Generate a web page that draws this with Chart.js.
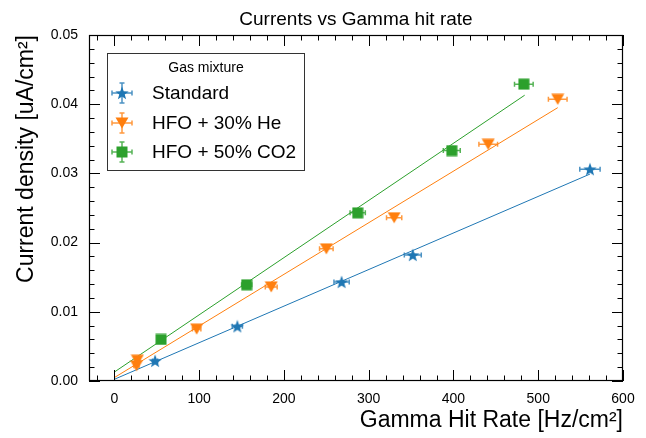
<!DOCTYPE html>
<html>
<head>
<meta charset="utf-8">
<script src="https://cdn.jsdelivr.net/npm/chart.js@4.4.1/dist/chart.umd.min.js"></script>
<style>
  body { margin: 0; background: #fff; }
  #wrap { width: 646px; height: 438px; }
</style>
</head>
<body>
<div id="wrap"><canvas id="myChart" width="646" height="438"></canvas></div>
<script>
// Données
const seriesNames = ['Standard', 'HFO + 30% He', 'HFO + 50% CO2'];
const seriesColors = ['#1f77b4', '#ff7f0e', '#2ca02c'];

const stdX = [48, 145, 268, 352, 561];
const stdY = [0.0029, 0.0079, 0.0143, 0.0182, 0.0306];
const stdXErr = [3, 6, 9, 10, 12];

const heX = [27, 26, 97, 185, 250, 330, 441, 523];
const heY = [0.0030, 0.0022, 0.0075, 0.0136, 0.0191, 0.0236, 0.0342, 0.0407];
const heXErr = [3, 3, 5, 7, 8, 9, 11, 11];

const co2X = [55, 156, 287, 398, 483];
const co2Y = [0.0060, 0.0139, 0.0243, 0.0333, 0.0429];
const co2XErr = [3, 6, 9, 10, 11];

const yErr = 0.0003;

// droites d'ajustement
const stdFitX = [0, 561];
const stdFitY = [0.00025, 0.0299];
const heFitX = [0, 523];
const heFitY = [0.0005, 0.0395];
const co2FitX = [0, 484];
const co2FitY = [0.0013, 0.0413];

const xTicks = [0, 100, 200, 300, 400, 500, 600];
const yTicks = [0, 0.01, 0.02, 0.03, 0.04, 0.05];

const FONT = '"Liberation Sans", Arial, Helvetica, sans-serif';

// Marqueurs (étoile, triangle, carré)
function makeMarker(shape, color) {
    const c = document.createElement('canvas');
    const g = c.getContext('2d');
    if (shape === 'star') {
        c.width = 14; c.height = 14;
        g.fillStyle = color;
        g.beginPath();
        for (let i = 0; i < 10; i++) {
            const r = i % 2 === 0 ? 7 : 2.9;
            const a = -Math.PI / 2 + i * Math.PI / 5;
            g.lineTo(7 + r * Math.cos(a), 7.6 + r * Math.sin(a));
        }
        g.closePath();
        g.fill();
    } else if (shape === 'tri') {
        c.width = 14; c.height = 12;
        g.fillStyle = color;
        g.beginPath();
        g.moveTo(0.5, 0.5);
        g.lineTo(13.5, 0.5);
        g.lineTo(7, 11.5);
        g.closePath();
        g.fill();
    } else {
        c.width = 12; c.height = 12;
        g.fillStyle = color;
        g.fillRect(0.5, 0.5, 11, 11);
    }
    return c;
}

const markers = [
    makeMarker('star', seriesColors[0]),
    makeMarker('tri', seriesColors[1]),
    makeMarker('square', seriesColors[2])
];

function toPoints(xs, ys) {
    return xs.map((x, i) => ({ x: x, y: ys[i] }));
}

const pointSets = [
    { x: stdX, y: stdY, xErr: stdXErr },
    { x: heX, y: heY, xErr: heXErr },
    { x: co2X, y: co2Y, xErr: co2XErr }
];
const fitSets = [
    { x: stdFitX, y: stdFitY },
    { x: heFitX, y: heFitY },
    { x: co2FitX, y: co2FitY }
];

const datasets = [];
pointSets.forEach((s, i) => {
    datasets.push({
        type: 'scatter',
        label: seriesNames[i],
        data: toPoints(s.x, s.y),
        pointStyle: markers[i],
        pointRadius: 7,
        backgroundColor: seriesColors[i],
        borderColor: seriesColors[i],
        order: 1
    });
});
fitSets.forEach((s, i) => {
    datasets.push({
        type: 'line',
        label: seriesNames[i] + ' fit',
        data: toPoints(s.x, s.y),
        borderColor: seriesColors[i],
        borderWidth: 1,
        pointRadius: 0,
        fill: false,
        order: 2
    });
});

function hexAlpha(hex, a) {
    const n = parseInt(hex.slice(1), 16);
    return 'rgba(' + (n >> 16) + ',' + ((n >> 8) & 255) + ',' + (n & 255) + ',' + a + ')';
}

// Barres d'erreur
const errorBarsPlugin = {
    id: 'errorBars',
    beforeDatasetsDraw(chart) {
        const ctx = chart.ctx;
        const xs = chart.scales.x, ys = chart.scales.y;
        ctx.save();
        ctx.lineWidth = 1.5;
        pointSets.forEach((s, i) => {
            ctx.strokeStyle = hexAlpha(seriesColors[i], 0.8);
            s.x.forEach((xv, k) => {
                const px = xs.getPixelForValue(xv);
                const py = ys.getPixelForValue(s.y[k]);
                const x0 = xs.getPixelForValue(xv - s.xErr[k]);
                const x1 = xs.getPixelForValue(xv + s.xErr[k]);
                const y0 = ys.getPixelForValue(s.y[k] - yErr);
                const y1 = ys.getPixelForValue(s.y[k] + yErr);
                ctx.beginPath();
                ctx.moveTo(x0, py); ctx.lineTo(x1, py);
                ctx.moveTo(x0, py - 2.5); ctx.lineTo(x0, py + 2.5);
                ctx.moveTo(x1, py - 2.5); ctx.lineTo(x1, py + 2.5);
                ctx.moveTo(px, y0); ctx.lineTo(px, y1);
                ctx.stroke();
            });
        });
        ctx.restore();
    }
};

// Cadre, graduations internes et légende
const framePlugin = {
    id: 'frame',
    afterDraw(chart) {
        const ctx = chart.ctx;
        const a = chart.chartArea;
        const xs = chart.scales.x, ys = chart.scales.y;
        ctx.save();
        ctx.strokeStyle = '#000';
        ctx.lineWidth = 1.2;
        ctx.strokeRect(Math.round(a.left) + 0.5, Math.round(a.top) + 0.5,
            Math.round(a.right - a.left) - 1, Math.round(a.bottom - a.top) - 1);

        ctx.lineWidth = 1;
        ctx.beginPath();
        for (let v = -20; v <= 600; v += 20) {
            const px = Math.round(xs.getPixelForValue(v)) + 0.5;
            const len = v % 100 === 0 ? 11 : 5.5;
            ctx.moveTo(px, a.bottom); ctx.lineTo(px, a.bottom - len);
            ctx.moveTo(px, a.top); ctx.lineTo(px, a.top + len);
        }
        for (let k = 0; k <= 25; k++) {
            const v = k * 0.002;
            const py = Math.round(ys.getPixelForValue(v)) + 0.5;
            const len = k % 5 === 0 ? 11 : 5.5;
            ctx.moveTo(a.left, py); ctx.lineTo(a.left + len, py);
            ctx.moveTo(a.right, py); ctx.lineTo(a.right - len, py);
        }
        ctx.stroke();

        // légende
        const bx = 107, by = 53, bw = 197, bh = 117;
        ctx.fillStyle = '#fff';
        ctx.fillRect(bx, by, bw, bh);
        ctx.strokeStyle = '#333';
        ctx.strokeRect(bx + 0.5, by + 0.5, bw, bh);
        ctx.fillStyle = '#000';
        ctx.textBaseline = 'middle';
        ctx.textAlign = 'center';
        ctx.font = '14px ' + FONT;
        ctx.fillText('Gas mixture', 206, 68);
        ctx.font = '19px ' + FONT;
        ctx.textAlign = 'left';
        const rows = [93, 123, 152];
        rows.forEach((ry, i) => {
            const mx = 122;
            ctx.strokeStyle = hexAlpha(seriesColors[i], 0.8);
            ctx.lineWidth = 1.5;
            ctx.beginPath();
            ctx.moveTo(mx - 10, ry); ctx.lineTo(mx + 10, ry);
            ctx.moveTo(mx - 10, ry - 2.5); ctx.lineTo(mx - 10, ry + 2.5);
            ctx.moveTo(mx + 10, ry - 2.5); ctx.lineTo(mx + 10, ry + 2.5);
            ctx.moveTo(mx, ry - 10); ctx.lineTo(mx, ry + 10);
            ctx.moveTo(mx - 2.5, ry - 10); ctx.lineTo(mx + 2.5, ry - 10);
            ctx.moveTo(mx - 2.5, ry + 10); ctx.lineTo(mx + 2.5, ry + 10);
            ctx.stroke();
            const m = markers[i];
            ctx.drawImage(m, mx - m.width / 2, ry - m.height / 2);
            ctx.fillStyle = '#000';
            ctx.fillText(seriesNames[i], 152, ry + 1);
        });
        ctx.restore();
    }
};

Chart.defaults.font.family = FONT;
Chart.defaults.color = '#000';

const ctx = document.getElementById('myChart').getContext('2d');
const myChart = new Chart(ctx, {
    data: { datasets: datasets },
    options: {
        responsive: false,
        animation: false,
        layout: { padding: { top: 0, right: 23, bottom: 0, left: 0 } },
        plugins: {
            legend: { display: false },
            tooltip: { enabled: false },
            title: {
                display: true,
                text: 'Currents vs Gamma hit rate',
                fullSize: false,
                color: '#000',
                font: { size: 19, weight: 'normal' },
                padding: { top: 8, bottom: 4.2 }
            }
        },
        scales: {
            x: {
                type: 'linear',
                min: -30,
                max: 600,
                afterBuildTicks: s => { s.ticks = xTicks.map(v => ({ value: v })); },
                afterFit: s => { s.height = 57; },
                grid: { display: false, drawTicks: false, tickLength: 0 },
                border: { display: false },
                ticks: { font: { size: 14 }, color: '#000', padding: 10, maxRotation: 0, autoSkip: false },
                title: {
                    display: true,
                    text: 'Gamma Hit Rate [Hz/cm²]',
                    align: 'end',
                    color: '#000',
                    font: { size: 23 },
                    padding: { top: 0, bottom: 4 }
                }
            },
            y: {
                type: 'linear',
                min: 0,
                max: 0.05,
                afterBuildTicks: s => { s.ticks = yTicks.map(v => ({ value: v })); },
                afterFit: s => { s.width = 89; },
                grid: { display: false, drawTicks: false, tickLength: 0 },
                border: { display: false },
                ticks: { font: { size: 14 }, color: '#000', padding: 11, callback: v => v.toFixed(2) },
                title: {
                    display: true,
                    text: 'Current density [uA/cm²]',
                    align: 'end',
                    color: '#000',
                    font: { size: 23 },
                    padding: { top: 13, bottom: 0 }
                }
            }
        }
    },
    plugins: [errorBarsPlugin, framePlugin]
});
</script>
</body>
</html>
